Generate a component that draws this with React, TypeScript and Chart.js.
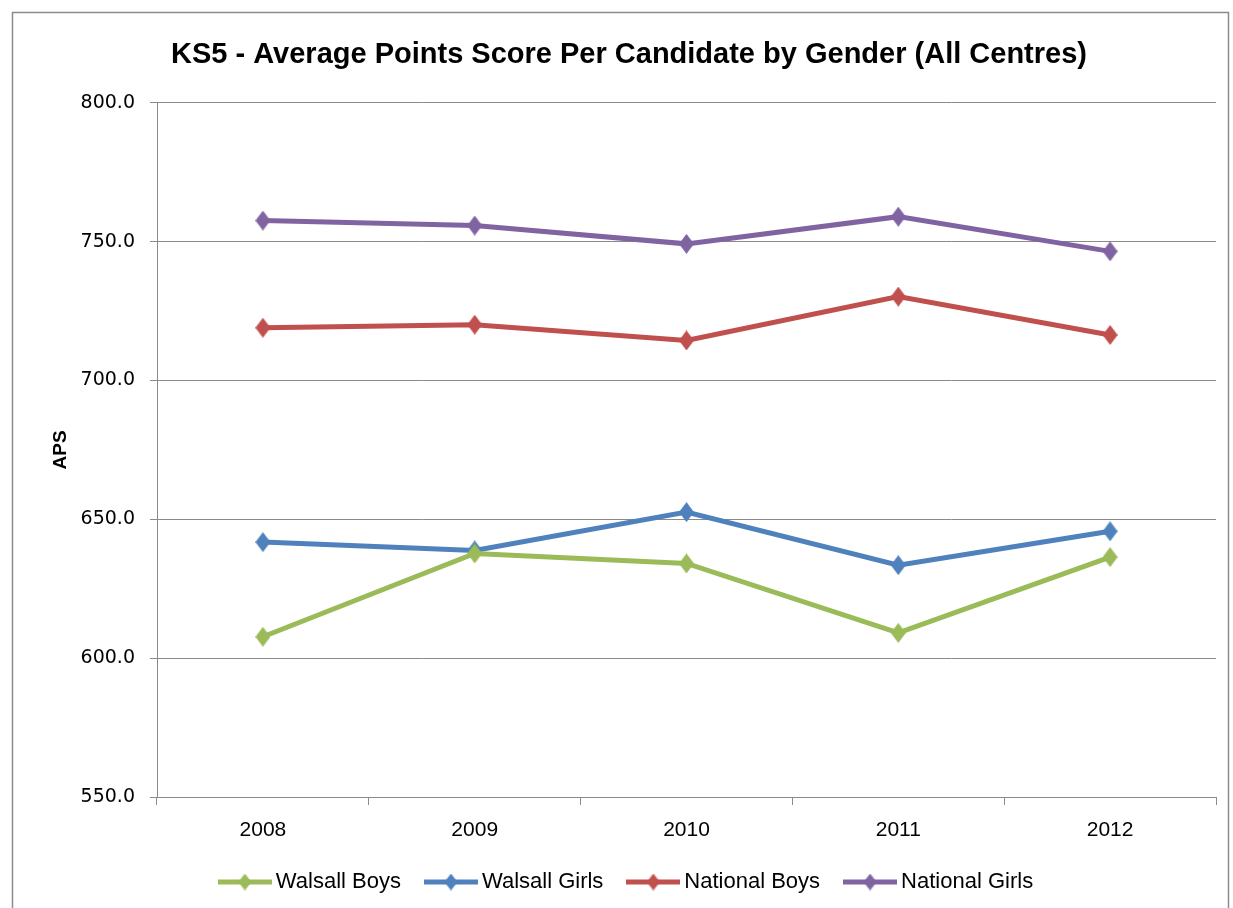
import React, { useEffect, useRef } from 'react';
import { Chart, registerables } from 'chart.js';

Chart.register(...registerables);

const years = ['2008', '2009', '2010', '2011', '2012'];
const walsallBoys = [607.7, 637.7, 634.1, 609.1, 636.4];
const walsallGirls = [641.8, 638.8, 652.6, 633.5, 645.7];
const nationalBoys = [719.0, 720.1, 714.4, 730.2, 716.4];
const nationalGirls = [757.6, 755.8, 749.2, 759.0, 746.5];
const seriesNames = ['Walsall Boys', 'Walsall Girls', 'National Boys', 'National Girls'];
const seriesColors = ['#9BBB59', '#4F81BD', '#C0504D', '#8064A2'];
const yMin = 550;
const yMax = 800;
const yStep = 50;
const chartTitle = 'KS5 - Average Points Score Per Candidate by Gender (All Centres)';
const yTitle = 'APS';

const NARROW = '"Liberation Sans Narrow", "Liberation Sans", Arial, sans-serif';
const WIDE = '"DejaVu Sans", Verdana, sans-serif';
const GRID = '#8a8a8a';

function makeDiamond(color: string, w: number, h: number) {
  const c = document.createElement('canvas');
  c.width = w;
  c.height = h;
  const ctx = c.getContext('2d')!;
  ctx.fillStyle = color;
  ctx.beginPath();
  ctx.moveTo(w / 2, 0);
  ctx.lineTo(w, h / 2);
  ctx.lineTo(w / 2, h);
  ctx.lineTo(0, h / 2);
  ctx.closePath();
  ctx.fill();
  return c;
}

function makeLegendIcon(color: string) {
  const w = 54;
  const h = 18;
  const c = document.createElement('canvas');
  c.width = w;
  c.height = h;
  const ctx = c.getContext('2d')!;
  ctx.strokeStyle = color;
  ctx.lineWidth = 5;
  ctx.beginPath();
  ctx.moveTo(0, h / 2);
  ctx.lineTo(w, h / 2);
  ctx.stroke();
  const d = makeDiamond(color, 13, 17);
  ctx.drawImage(d, w / 2 - 6.5, 0.5);
  return c;
}

const framePlugin = {
  id: 'frame',
  beforeDraw(chart: any) {
    const ctx = chart.ctx;
    ctx.save();
    ctx.fillStyle = '#ffffff';
    ctx.fillRect(0, 0, chart.width, chart.height);
    ctx.strokeStyle = '#8c8c8c';
    ctx.lineWidth = 1.5;
    ctx.strokeRect(12.5, 12.5, 1216, 1000);
    ctx.restore();
  },
};

export default function App() {
  const ref = useRef<HTMLCanvasElement>(null);

  useEffect(() => {
    if (!ref.current) return;
    const allValues = [walsallBoys, walsallGirls, nationalBoys, nationalGirls];
    const datasets = allValues.map((vals, i) => {
      const diamond = makeDiamond(seriesColors[i], 15, 20);
      return {
        label: seriesNames[i],
        data: vals,
        borderColor: seriesColors[i],
        backgroundColor: seriesColors[i],
        borderWidth: 5,
        pointStyle: diamond as any,
        pointRadius: 9,
        pointHoverRadius: 9,
        tension: 0,
        legendIcon: makeLegendIcon(seriesColors[i]),
      };
    });

    const chart = new Chart(ref.current, {
      type: 'line',
      data: { labels: years, datasets: datasets as any },
      plugins: [framePlugin],
      options: {
        responsive: false,
        animation: false,
        layout: { padding: { left: 42, right: 17, top: 0, bottom: 5 } },
        plugins: {
          title: {
            display: true,
            text: chartTitle,
            color: '#000',
            font: { family: NARROW, size: 29, weight: 'bold', lineHeight: 1.2 },
            padding: { top: 38, bottom: 30 },
          },
          legend: {
            position: 'bottom',
            labels: {
              usePointStyle: true,
              pointStyleWidth: 40,
              color: '#000',
              font: { family: NARROW, size: 22 },
              padding: 30,
              generateLabels: (ch: any) =>
                ch.data.datasets.map((ds: any, i: number) => ({
                  text: ds.label,
                  fillStyle: ds.borderColor,
                  strokeStyle: ds.borderColor,
                  lineWidth: 0,
                  pointStyle: ds.legendIcon,
                  hidden: false,
                  datasetIndex: i,
                  fontColor: '#000',
                })),
            },
          },
          tooltip: { enabled: false },
        },
        scales: {
          x: {
            offset: true,
            grid: {
              display: true,
              drawOnChartArea: false,
              drawTicks: true,
              tickLength: 8,
              offset: true,
              color: GRID,
            },
            border: { display: true, color: GRID, width: 1 },
            ticks: { color: '#000', font: { family: NARROW, size: 21, lineHeight: 1 }, padding: 15 },
            afterFit: (s: any) => {
              s.height = 44;
            },
          },
          y: {
            min: yMin,
            max: yMax,
            ticks: {
              stepSize: yStep,
              color: '#000',
              font: { family: WIDE, size: 19 },
              padding: 15,
              callback: (v: any) => Number(v).toFixed(1),
            },
            grid: { color: GRID, lineWidth: 1, tickLength: 7 },
            border: { display: true, color: GRID, width: 1 },
            title: {
              display: true,
              text: yTitle,
              color: '#000',
              font: { family: NARROW, size: 19, weight: 'bold' },
              padding: { top: 7, bottom: 0 },
            },
            afterFit: (s: any) => {
              s.width = 115;
            },
          },
        },
      },
    });
    return () => chart.destroy();
  }, []);

  return (
    <div style={{ position: 'absolute', left: 0, top: 0, width: 1233, height: 908, background: '#fff' }}>
      <canvas ref={ref} width={1233} height={908} style={{ display: 'block' }} />
    </div>
  );
}
